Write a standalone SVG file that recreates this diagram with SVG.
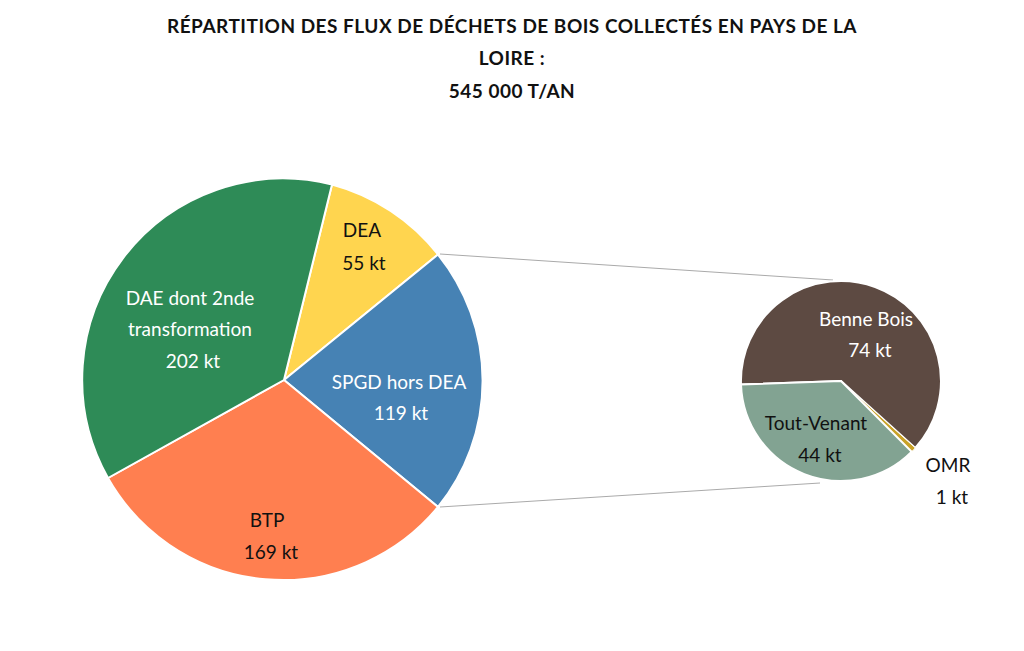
<svg xmlns="http://www.w3.org/2000/svg" width="1024" height="651" viewBox="0 0 1024 651">
<style>
text{font-family:"Lato","Open Sans",sans-serif;font-size:19px;text-anchor:middle}
.t{font-size:19px;font-weight:bold;letter-spacing:0.5px}
.w{fill:#fff}.k{fill:#111}
.s{stroke:#fff;stroke-width:2}
</style>
<rect width="1024" height="651" fill="#fff"/>
<g id="title" class="k">
<text class="t" x="512" y="33">RÉPARTITION DES FLUX DE DÉCHETS DE BOIS COLLECTÉS EN PAYS DE LA</text>
<text class="t" x="512" y="65">LOIRE :</text>
<text class="t" x="512" y="98">545 000 T/AN</text>
</g>
<g id="connectors" stroke="#aaa" stroke-width="1">
<line x1="440" y1="254" x2="833" y2="280"/>
<line x1="440" y1="507" x2="820" y2="483"/>
</g>
<g id="dea"><path class="s" fill="#ffd54f" d="M284,380 L332,184.5 A201,201 0 0 1 438,254.5 Z"/><text class="k" x="362" y="237">DEA</text><text class="k" x="364" y="270">55 kt</text></g>
<g id="spgd"><path class="s" fill="#4682b4" d="M284,380 L438,254.5 A201,201 0 0 1 438,507 Z"/><text class="w" x="399" y="389">SPGD hors DEA</text><text class="w" x="401" y="420">119 kt</text></g>
<g id="btp"><path class="s" fill="#ff7f50" d="M284,380 L438,507 A201,201 0 0 1 108,478 Z"/><text class="k" x="267" y="527">BTP</text><text class="k" x="271" y="559">169 kt</text></g>
<g id="dae"><path class="s" fill="#2e8b57" d="M284,380 L108,478 A201,201 0 0 1 332,184.5 Z"/><text class="w" x="190" y="305">DAE dont 2nde</text><text class="w" x="190" y="336">transformation</text><text class="w" x="193" y="368">202 kt</text></g>
<g id="benne"><path class="s" fill="#5d4a42" d="M841,381 L741,384.5 A100,100 0 1 1 915.3,447.9 Z"/><text class="w" x="866" y="326">Benne Bois</text><text class="w" x="870" y="357">74 kt</text></g>
<g id="omr"><path stroke="#fff" stroke-width="1" fill="#c9a227" d="M841,381 L915.3,447.9 A100,100 0 0 1 911.7,451.7 Z"/><text class="k" x="948" y="472">OMR</text><text class="k" x="952" y="504">1 kt</text></g>
<g id="toutvenant"><path class="s" fill="#82a392" d="M841,381 L911.7,451.7 A100,100 0 0 1 741,384.5 Z"/><text class="k" x="816" y="430">Tout-Venant</text><text class="k" x="820" y="462">44 kt</text></g>
</svg>
